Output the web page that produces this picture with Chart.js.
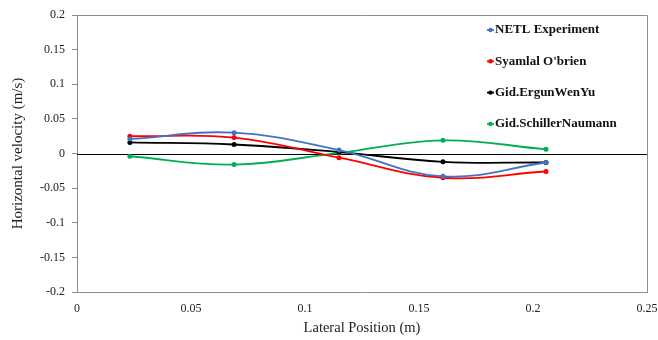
<!DOCTYPE html>
<html>
<head>
<meta charset="utf-8">
<script src="https://cdn.jsdelivr.net/npm/chart.js@4"></script>
<style>
  html, body { margin: 0; padding: 0; background: #fff; }
  #wrap { width: 658px; height: 340px; }
</style>
</head>
<body>
<div id="wrap"><canvas id="velChart" width="658" height="340"></canvas></div>
<script>
try {

    // Data
    const positions = [0.0232, 0.0689, 0.1149, 0.1605, 0.2057];
    const netl = [0.021, 0.030, 0.005, -0.033, -0.013];
    const syamlal = [0.025, 0.023, -0.006, -0.035, -0.026];
    const ergun = [0.016, 0.013, 0.002, -0.012, -0.013];
    const schiller = [-0.004, -0.016, 0.001, 0.019, 0.006];
    const seriesNames = ['NETL Experiment', "Syamlal O'brien", 'Gid.ErgunWenYu', 'Gid.SchillerNaumann'];
    const seriesColors = ['#4472c4', '#ff0000', '#000000', '#00b050'];
    const xTicks = [0, 0.05, 0.1, 0.15, 0.2, 0.25];
    const yTicks = [0.2, 0.15, 0.1, 0.05, 0, -0.05, -0.1, -0.15, -0.2];

    const fontFamily = '"Liberation Serif", "DejaVu Serif", serif';

    function toPoints(vals) {
      return positions.map((x, i) => ({ x: x, y: vals[i] }));
    }

    const allSeries = [netl, syamlal, ergun, schiller];
    const datasets = allSeries.map((vals, i) => ({
      label: seriesNames[i],
      data: toPoints(vals),
      borderColor: seriesColors[i],
      backgroundColor: seriesColors[i],
      borderWidth: 1.8,
      pointRadius: 2.5,
      pointBorderWidth: 0,
      tension: 0.4,
      fill: false
    }));

    // zero line, border and legend drawn by hand
    const extras = {
      id: 'extras',
      beforeDatasetsDraw(chart) {
        const { ctx, chartArea, scales } = chart;
        const y0 = scales.y.getPixelForValue(0);
        ctx.save();
        ctx.strokeStyle = '#8c8c8c';
        ctx.lineWidth = 1;
        ctx.beginPath();
        ctx.moveTo(chartArea.left, chartArea.top + 0.5);
        ctx.lineTo(chartArea.right + 0.5, chartArea.top + 0.5);
        ctx.lineTo(chartArea.right + 0.5, chartArea.bottom);
        ctx.stroke();
        ctx.strokeStyle = '#000';
        ctx.lineWidth = 1.2;
        ctx.beginPath();
        ctx.moveTo(chartArea.left, Math.round(y0) + 0.5);
        ctx.lineTo(chartArea.right, Math.round(y0) + 0.5);
        ctx.stroke();
        ctx.restore();
      },
      afterDraw(chart) {
        const { ctx, chartArea } = chart;
        ctx.save();
        ctx.font = 'bold 13px ' + fontFamily;
        ctx.textBaseline = 'middle';
        seriesNames.forEach((name, i) => {
          const y = chartArea.top + 15 + i * 31.3;
          const x = chartArea.right - 160;
          ctx.strokeStyle = seriesColors[i];
          ctx.fillStyle = seriesColors[i];
          ctx.lineWidth = 1.8;
          ctx.beginPath();
          ctx.moveTo(x, y);
          ctx.lineTo(x + 7, y);
          ctx.stroke();
          ctx.beginPath();
          ctx.arc(x + 3.5, y, 2.2, 0, Math.PI * 2);
          ctx.fill();
          ctx.fillStyle = '#111';
          ctx.fillText(name, x + 8, y);
        });
        ctx.restore();
      }
    };

    const chart = new Chart(document.getElementById('velChart').getContext('2d'), {
      type: 'line',
      data: { datasets: datasets },
      options: {
        responsive: false,
        animation: false,
        layout: { padding: { left: 0, right: 11, top: 15, bottom: 0 } },
        plugins: { legend: { display: false }, tooltip: { enabled: false } },
        scales: {
          x: {
            type: 'linear',
            min: 0,
            max: 0.25,
            afterBuildTicks(axis) { axis.ticks = xTicks.map(v => ({ value: v })); },
            afterFit(axis) {
              axis.height = 48;
              axis.paddingLeft = 0;
              axis.paddingRight = 0;
            },
            grid: { display: false, drawTicks: false },
            border: { display: true, color: '#8c8c8c', width: 1 },
            ticks: {
              color: '#222',
              padding: 10,
              font: { family: fontFamily, size: 12 },
              maxRotation: 0,
              callback: v => String(v)
            },
            title: {
              display: true,
              text: 'Lateral Position (m)',
              color: '#222',
              font: { family: fontFamily, size: 14.5 },
              padding: { top: 4, bottom: 3 }
            }
          },
          y: {
            min: -0.2,
            max: 0.2,
            afterBuildTicks(axis) { axis.ticks = yTicks.map(v => ({ value: v })); },
            afterFit(axis) { axis.width = 77; },
            grid: { display: true, drawOnChartArea: false, drawTicks: true, tickLength: 5, color: '#8c8c8c' },
            border: { display: true, color: '#8c8c8c', width: 1 },
            ticks: {
              color: '#222',
              padding: 7,
              font: { family: fontFamily, size: 12 },
              callback: v => String(v)
            },
            title: {
              display: true,
              text: 'Horizontal velocity (m/s)',
              color: '#222',
              font: { family: fontFamily, size: 15 },
              padding: { top: 9, bottom: 6 }
            }
          }
        }
      },
      plugins: [extras]
    });

} catch (e) {
    console.log(e);
}
</script>
</body>
</html>
